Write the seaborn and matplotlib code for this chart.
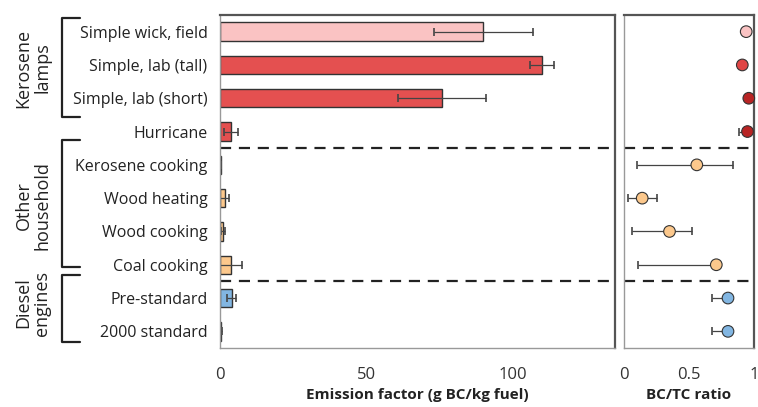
import matplotlib
matplotlib.use("Agg")
import matplotlib.pyplot as plt
from matplotlib.lines import Line2D
import seaborn as sns
import pandas as pd
import numpy as np

categories = ["Simple wick, field", "Simple, lab (tall)", "Simple, lab (short)", "Hurricane",
              "Kerosene cooking", "Wood heating", "Wood cooking", "Coal cooking",
              "Pre-standard", "2000 standard"]
emission = [90, 110, 76, 3.6, 0.3, 1.6, 1.0, 3.6, 4.0, 0.5]
emission_err = [17, 4, 15, 2.4, 0, 1.6, 0.6, 3.8, 1.5, 0.3]
bctc = [0.94, 0.91, 0.96, 0.95, 0.56, 0.14, 0.35, 0.71, 0.80, 0.80]
bctc_err_lo = [0.0, 0.0, 0.0, 0.065, 0.46, 0.11, 0.29, 0.60, 0.12, 0.12]
bctc_err_hi = [0.03, 0.0, 0.0, 0.0, 0.28, 0.11, 0.17, 0.0, 0.0, 0.0]
bar_colors = ["#FAC3C3", "#E45050", "#E45050", "#E45050",
              "#FCC88C", "#FCC88C", "#FCC88C", "#FCC88C", "#82B6E2", "#82B6E2"]
dot_colors = ["#FAC3C3", "#E04646", "#B82424", "#B82424",
              "#FCC88C", "#FCC88C", "#FCC88C", "#FCC88C", "#82B6E2", "#82B6E2"]
groups = ["Kerosene\nlamps", "Other\nhousehold", "Diesel\nengines"]

df = pd.DataFrame({"cat": categories, "ef": emission, "ratio": bctc})

sns.set_style("white")
plt.rcParams["font.family"] = ["Open Sans", "DejaVu Sans"]

fig = plt.figure(figsize=(7.58, 4.07), dpi=100)
W, H = 758, 407
ax1 = fig.add_axes([220 / W, 1 - 348 / H, 395 / W, 333 / H])
ax2 = fig.add_axes([624 / W, 1 - 348 / H, 130 / W, 333 / H])

sns.barplot(data=df, x="ef", y="cat", hue="cat", palette=bar_colors, legend=False,
            width=0.55, saturation=1, edgecolor="#333333", linewidth=1, ax=ax1)
pos = np.arange(len(categories))
ax1.errorbar(emission, pos, xerr=emission_err, fmt="none", ecolor="#444444",
             elinewidth=0.9, capsize=3, capthick=1.2)
ax1.set_xlim(0, 135)
ax1.set_ylim(9.5, -0.5)
ax1.set_xticks([0, 50, 100])
ax1.set_xlabel("Emission factor (g BC/kg fuel)", fontsize=11, fontweight="bold",
               color="#222222", labelpad=4)
ax1.set_ylabel("")
ax1.set_yticks(pos)
ax1.set_yticklabels(categories)
ax1.set_yticks(np.arange(-0.5, 10, 1), minor=True)

ax2.errorbar(bctc, pos, xerr=[bctc_err_lo, bctc_err_hi], fmt="none", ecolor="#444444",
             elinewidth=0.9, capsize=3, capthick=1.2, zorder=1)
sns.scatterplot(data=df, x="ratio", y="cat", hue="cat", palette=dot_colors, legend=False,
                s=70, edgecolor="#333333", linewidth=0.8, ax=ax2, zorder=3, clip_on=False)
ax2.set_xlim(0, 1)
ax2.set_ylim(9.5, -0.5)
ax2.set_xticks([0, 0.5, 1])
ax2.set_xticklabels(["0", "0.5", "1"])
ax2.set_yticks([])
ax2.set_xlabel("BC/TC ratio", fontsize=11, fontweight="bold", color="#222222", labelpad=4)
ax2.set_ylabel("")

for ax in (ax1, ax2):
    for side, sp in ax.spines.items():
        sp.set_visible(True)
        sp.set_color("#555555")
        sp.set_linewidth(1.6 if side in ("top", "right") else 1.0)
    ax.spines["bottom"].set_color("#999999")
    ax.spines["left"].set_color("#999999")
    for y in (3.5, 7.5):
        ax.axhline(y, color="#222222", lw=1.6, ls=(0, (5, 3.5)))
    ax.tick_params(axis="x", labelsize=12, labelcolor="#333333", length=3, direction="inout",
                   color="#999999", pad=12)

ax1.tick_params(axis="y", which="major", length=0, labelsize=11.5, labelcolor="#222222", pad=9)
ax1.tick_params(axis="y", which="minor", length=3, color="#999999", direction="out")

# group brackets and labels
def px(x, y):
    return x / W, 1 - y / H

for (top, bot, yc), label in zip([(18, 117, 68), (140, 267, 206), (275, 342, 303)], groups):
    xs = [80, 62, 62, 80]
    ys = [top, top, bot, bot]
    fig.add_artist(Line2D([x / W for x in xs], [1 - y / H for y in ys],
                          color="#222222", lw=1.6))
    fig.text(*px(33, yc), label, rotation=90, ha="center", va="center",
             fontsize=13, color="#222222", linespacing=1.05)

plt.savefig("out.png", dpi=100)
